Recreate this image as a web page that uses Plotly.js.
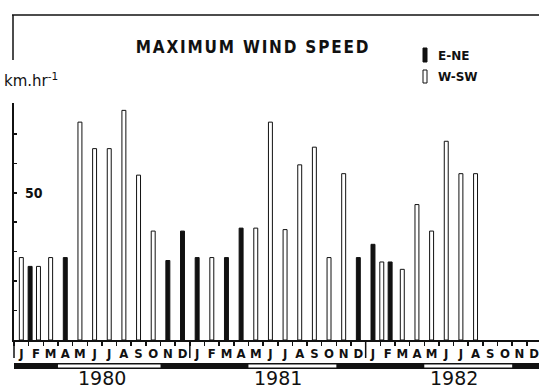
<!DOCTYPE html>
<html>
<head>
<meta charset="utf-8">
<script src="https://cdn.plot.ly/plotly-3.0.1.min.js"></script>
<style>
  html, body { margin: 0; padding: 0; background: #fff; }
  #chart { width: 539px; height: 390px; }
  .gtitle { letter-spacing: 1.8px; }
</style>
</head>
<body>
<div id="chart"></div>
<script>
// ---- data (km/hr), monthly, Jan 1980 .. Dec 1982 ----
const years = ['1980', '1981', '1982'];
const monthLetters = ['J', 'F', 'M', 'A', 'M', 'J', 'J', 'A', 'S', 'O', 'N', 'D'];
const eneSpeed = [
  null, 25, null, 28, null, null, null, null, null, null, 27, 37,
  28, null, 28, 38, null, null, null, null, null, null, null, 28,
  32.5, 26.5, null, null, null, null, null, null, null, null, null, null
];
const wswSpeed = [
  28, 25, 28, null, 74, 65, 65, 78, 56, 37, null, null,
  null, 28, null, null, 38, 74, 37.5, 59.5, 65.5, 28, 56.5, null,
  null, 26.5, 24, 46, 37, 67.5, 56.5, 56.5, null, null, null, null
];
// months (first, last index) marked white on the season band
const seasonStart = [3, 16, 28];
const seasonEnd = [9, 21, 33];
const yTickVals = [10, 20, 30, 40, 50, 60, 70];
const yLabelled = [50];

// ---- build ----
const monthIdx = [];
const monthText = [];
years.forEach((y, yi) => monthLetters.forEach((m, mi) => { monthIdx.push(yi * 12 + mi); monthText.push(m); }));
const boundaries = [];
for (let i = 0; i <= monthIdx.length; i++) boundaries.push(i - 0.5);

const BW = 0.27;
const eneRightInPair = new Set([25]);
function offsets(own, other, isEne) {
  return own.map((v, i) => {
    if (v === null) return 0;
    if (other[i] === null) return -BW / 2;
    const right = isEne ? eneRightInPair.has(i) : !eneRightInPair.has(i);
    return (right ? 0.17 : -0.4) - BW / 2;
  });
}

const traceENE = {
  type: 'bar', name: 'E-NE', x: monthIdx, y: eneSpeed,
  width: BW, offset: offsets(eneSpeed, wswSpeed, true),
  marker: { color: '#111', line: { color: '#111', width: 1 } },
  showlegend: false, hoverinfo: 'skip'
};
const traceWSW = {
  type: 'bar', name: 'W-SW', x: monthIdx, y: wswSpeed,
  width: BW, offset: offsets(wswSpeed, eneSpeed, false),
  marker: { color: '#ffffff', line: { color: '#111', width: 1 } },
  showlegend: false, hoverinfo: 'skip'
};

const L = 14, T = 103, R = 539, B = 340;
const PX = px => (px - L) / (R - L);
const PY = py => (B - py) / (B - T);

const shapes = [
  { type: 'line', xref: 'paper', yref: 'paper', x0: PX(12), x1: PX(539), y0: PY(15), y1: PY(15), line: { color: '#111', width: 1.5 } },
  { type: 'line', xref: 'paper', yref: 'paper', x0: PX(13), x1: PX(13), y0: PY(15), y1: PY(60), line: { color: '#111', width: 1.5 } },
  { type: 'line', xref: 'paper', yref: 'paper', x0: PX(14), x1: PX(14), y0: PY(340), y1: PY(358), line: { color: '#111', width: 1.5 } },
  { type: 'rect', xref: 'paper', yref: 'paper', x0: 0, x1: 1, y0: PY(369), y1: PY(363), fillcolor: '#111', line: { width: 0 } },
  // legend symbols
  { type: 'rect', xref: 'paper', yref: 'paper', x0: PX(423), x1: PX(427), y0: PY(62), y1: PY(48), fillcolor: '#111', line: { color: '#111', width: 1 } },
  { type: 'rect', xref: 'paper', yref: 'paper', x0: PX(423), x1: PX(427), y0: PY(83), y1: PY(70), fillcolor: '#fff', line: { color: '#111', width: 1 } }
];
[12, 24].forEach(b => shapes.push({
  type: 'line', xref: 'x', yref: 'paper', x0: b - 0.5, x1: b - 0.5, y0: PY(340), y1: PY(358), line: { color: '#111', width: 1.5 }
}));
seasonStart.forEach((s, i) => shapes.push({
  type: 'rect', xref: 'x', yref: 'paper', x0: s - 0.5, x1: seasonEnd[i] + 0.5, y0: PY(367.6), y1: PY(364.6), fillcolor: '#fff', line: { width: 0 }
}));

const annotations = years.map((y, yi) => ({
  text: y, xref: 'x', yref: 'paper', x: yi * 12 + 5.5, y: PY(390), xanchor: 'center', yanchor: 'bottom',
  showarrow: false, borderpad: 0, font: { family: 'DejaVu Sans', size: 19, color: '#111' }
}));
yLabelled.forEach(v => annotations.push({
  text: String(v), xref: 'paper', yref: 'y', x: PX(23), y: v, xanchor: 'left', yanchor: 'middle', showarrow: false,
  font: { family: 'DejaVu Sans Condensed, DejaVu Sans', size: 14, weight: 'bold', color: '#111' }
}));
annotations.push(
  { text: 'E-NE', xref: 'paper', yref: 'paper', x: PX(436), y: PY(56), xanchor: 'left', yanchor: 'middle', showarrow: false,
    font: { family: 'DejaVu Sans', size: 12, weight: 'bold', color: '#111' } },
  { text: 'W-SW', xref: 'paper', yref: 'paper', x: PX(436), y: PY(77), xanchor: 'left', yanchor: 'middle', showarrow: false,
    font: { family: 'DejaVu Sans', size: 12, weight: 'bold', color: '#111' } },
  { text: 'km.hr<sup>-1</sup>', xref: 'paper', yref: 'paper', x: PX(2), y: PY(80.5), xanchor: 'left', yanchor: 'middle', showarrow: false,
    font: { family: 'DejaVu Sans', size: 15, color: '#111' } }
);

const layout = {
  width: 539, height: 390,
  margin: { l: L, r: 539 - R, t: T, b: 390 - B, pad: 0 },
  paper_bgcolor: '#fff', plot_bgcolor: '#fff',
  barmode: 'overlay',
  font: { family: 'DejaVu Sans', color: '#111' },
  title: {
    text: 'MAXIMUM WIND SPEED', xref: 'container', yref: 'container',
    x: 253 / 539, xanchor: 'center', y: 1 - 47 / 390, yanchor: 'middle',
    font: { family: 'DejaVu Sans Condensed, DejaVu Sans', size: 17, weight: 'bold', color: '#111' }
  },
  xaxis: {
    range: [-0.5, 35.33], tickmode: 'array', tickvals: monthIdx, ticktext: monthText,
    ticks: 'outside', ticklen: 0, tickwidth: 0, ticklabeloverflow: 'allow',
    tickfont: { family: 'DejaVu Sans Condensed, DejaVu Sans', size: 13, weight: 'bold', color: '#111' },
    showline: true, linecolor: '#111', linewidth: 2, showgrid: false, zeroline: false,
    minor: { tickmode: 'array', tickvals: boundaries, ticks: 'outside', ticklen: 4, tickwidth: 1.5, tickcolor: '#111', showgrid: false },
    fixedrange: true
  },
  yaxis: {
    range: [0, 80.5], tickmode: 'array', tickvals: yTickVals, showticklabels: false,
    ticks: 'inside', ticklen: 3, tickwidth: 1.5, tickcolor: '#111',
    showline: true, linecolor: '#111', linewidth: 2, showgrid: false, zeroline: false,
    fixedrange: true
  },
  shapes: shapes,
  annotations: annotations,
  showlegend: false
};

Plotly.newPlot('chart', [traceENE, traceWSW], layout, { staticPlot: true, displayModeBar: false });
</script>
</body>
</html>
